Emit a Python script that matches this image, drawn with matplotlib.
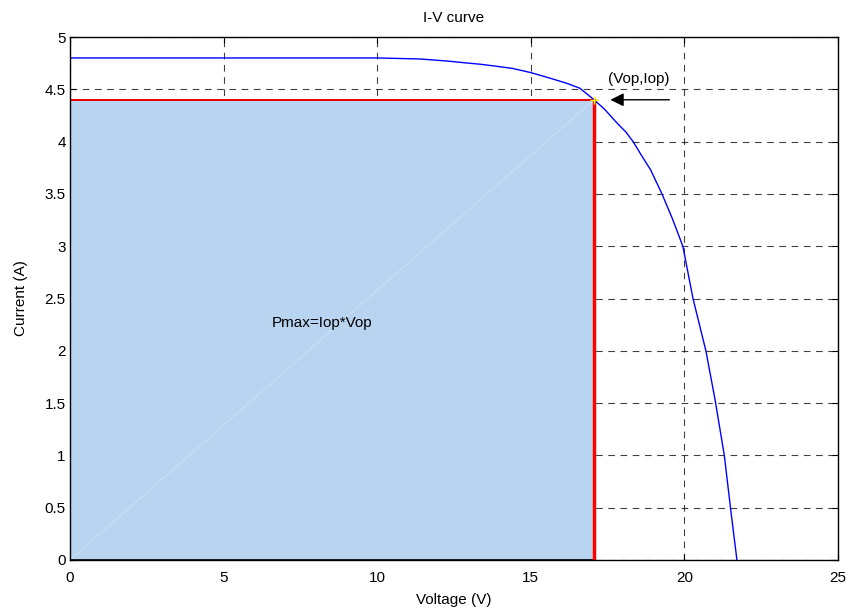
import matplotlib.pyplot as plt
from matplotlib.patches import Rectangle

plt.rcParams['font.family'] = ['Liberation Sans', 'DejaVu Sans']

# I-V curve
voltage = [0, 5, 10, 11.4, 12.3, 12.8, 13.35, 13.9, 14.4, 15.0, 15.7, 16.2, 16.6,
           17.06, 17.4, 17.8, 18.1, 18.33, 18.6, 18.9, 19.27, 19.6, 19.95, 20.28,
           20.7, 21.0, 21.3, 21.5, 21.71]
current = [4.8, 4.8, 4.8, 4.79, 4.77, 4.755, 4.74, 4.72, 4.70, 4.66, 4.60, 4.555, 4.51,
           4.40, 4.31, 4.18, 4.09, 4.0, 3.87, 3.73, 3.5, 3.27, 3.0, 2.5,
           2.0, 1.53, 1.0, 0.5, 0.0]

# maximum power point
vop = 17.06
iop = 4.40

xticks = [0, 5, 10, 15, 20, 25]
yticks = [0, 0.5, 1, 1.5, 2, 2.5, 3, 3.5, 4, 4.5, 5]

fig = plt.figure(figsize=(8.51, 6.09), dpi=100)
ax = fig.add_axes([0.0823, 0.0805, 0.9024, 0.8587])

ax.set_xlim(0, 25)
ax.set_ylim(0, 5)
ax.set_xticks(xticks)
ax.set_yticks(yticks)
ax.set_xticklabels([f'{t:g}' for t in xticks])
ax.set_yticklabels([f'{t:g}' for t in yticks])
ax.tick_params(direction='in', top=True, right=True, labelsize=11, length=4, pad=3)
ax.tick_params(axis='x', pad=8)
ax.grid(True, color='black', linestyle=(0, (6, 5)), linewidth=0.8, alpha=0.75)
ax.set_axisbelow(False)

# power rectangle
ax.add_patch(Rectangle((0, 0), vop, iop, facecolor='#b9d4f1', edgecolor='black',
                       linewidth=1.2, zorder=3))
ax.plot([0, vop], [0, iop], color='white', linewidth=0.5, alpha=0.35, zorder=4)
ax.plot([0, vop], [iop, iop], color='red', linewidth=1.3, zorder=5)
ax.plot([vop, vop], [0, iop], color='red', linewidth=2.5, zorder=5)

ax.plot(voltage, current, color='blue', linewidth=1, zorder=6)
ax.plot([vop], [iop], marker='+', color='yellow', markersize=6, zorder=7)

ax.annotate('', xy=(17.5, iop), xytext=(19.6, iop),
            arrowprops=dict(arrowstyle='-|>', color='black', lw=1,
                            mutation_scale=20), zorder=8)
ax.text(18.5, 4.6, '(Vop,Iop)', fontsize=11, ha='center', va='center', zorder=8)
ax.text(8.2, 2.27, 'Pmax=Iop*Vop', fontsize=11, ha='center', va='center', zorder=8)

ax.set_title('I-V curve', fontsize=11, pad=11)
ax.set_xlabel('Voltage (V)', fontsize=11, labelpad=6)
ax.set_ylabel('Current (A)', fontsize=11, labelpad=12)

for s in ax.spines.values():
    s.set_linewidth(1)
    s.set_zorder(9)

fig.savefig('out.png', dpi=100)
